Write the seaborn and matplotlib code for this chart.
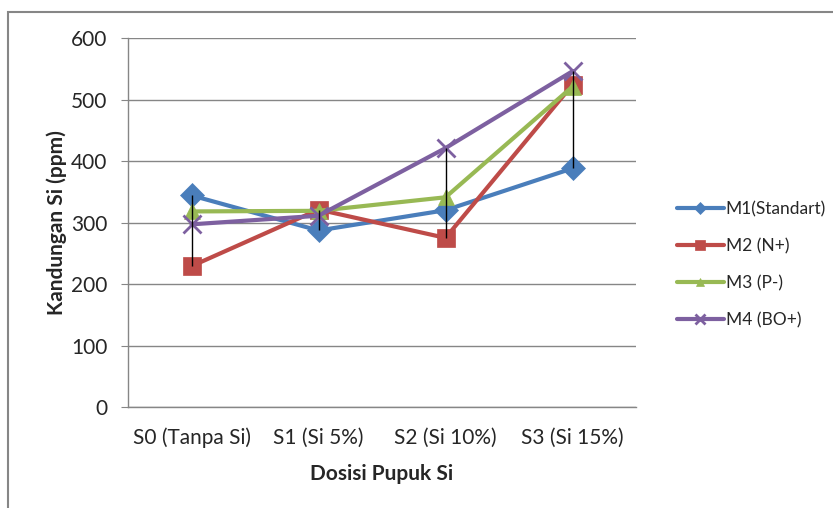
import matplotlib
matplotlib.use("Agg")
import matplotlib.pyplot as plt
import matplotlib.patches as mpatches
import pandas as pd
import seaborn as sns
import numpy as np

# data
dosis = ['S0 (Tanpa Si)', 'S1 (Si 5%)', 'S2 (Si 10%)', 'S3 (Si 15%)']
m1 = [344, 287, 320, 388]
m2 = [229, 321, 275, 524]
m3 = [318, 319, 341, 521]
m4 = [297, 311, 421, 546]
series_names = ['M1(Standart)', 'M2 (N+)', 'M3 (P-)', 'M4 (BO+)']
y_ticks = [0, 100, 200, 300, 400, 500, 600]

colors = ['#4A7EBB', '#BE4B48', '#98B954', '#7D60A0']
markers = ['D', 's', '^', 'x']
msizes = [12, 13, 12, 13]

df = pd.DataFrame({
    'dosis': dosis * 4,
    'kandungan': m1 + m2 + m3 + m4,
    'perlakuan': np.repeat(series_names, len(dosis)),
})

sns.set_style('white')
plt.rcParams['font.family'] = ['Lato', 'DejaVu Sans']

fig = plt.figure(figsize=(8.33, 5.08), dpi=100)
ax = fig.add_axes([0.1537, 0.1988, 0.6098, 0.7264])

for i, name in enumerate(series_names):
    sub = df[df['perlakuan'] == name]
    sns.lineplot(ax=ax, x='dosis', y='kandungan', data=sub, color=colors[i],
                 marker=markers[i], markersize=msizes[i], linewidth=3,
                 markeredgecolor=colors[i], markeredgewidth=2 if markers[i] == 'x' else 0.5,
                 label=name, sort=False, zorder=3 + i)

# high-low lines
xs = np.arange(len(dosis))
vals = np.array([m1, m2, m3, m4])
ax.vlines(xs, vals.min(axis=0), vals.max(axis=0), color='black', linewidth=1, zorder=10)

ax.set_xlim(-0.5, len(dosis) - 0.5)
ax.set_ylim(0, 600)
ax.set_yticks(y_ticks)
ax.yaxis.grid(True, color='#868686', linewidth=1)
ax.set_axisbelow(True)
for side in ['top', 'right']:
    ax.spines[side].set_visible(False)
for side in ['left', 'bottom']:
    ax.spines[side].set_color('#868686')
    ax.spines[side].set_linewidth(1)
ax.tick_params(axis='y', length=5, color='#868686', labelsize=15, left=True, pad=10)
ax.tick_params(axis='x', length=0, labelsize=15, pad=15)

ax.set_xlabel('Dosisi Pupuk Si', fontsize=15, fontweight='bold', labelpad=11)
ax.set_ylabel('Kandungan Si (ppm)', fontsize=15, fontweight='bold', labelpad=3)

leg = ax.legend(loc='center left', bbox_to_anchor=(1.05, 0.385), frameon=False,
                fontsize=12.5, markerscale=0.5, handlelength=2.7, labelspacing=1.2,
                handletextpad=0.1)

# outer chart border
fig.patches.append(mpatches.Rectangle((8 / 833, -0.05), 1.2, 1 - 12 / 508 + 0.05,
                                      transform=fig.transFigure, fill=False,
                                      edgecolor='#868686', linewidth=1.5))

plt.savefig('out.png', dpi=100)
